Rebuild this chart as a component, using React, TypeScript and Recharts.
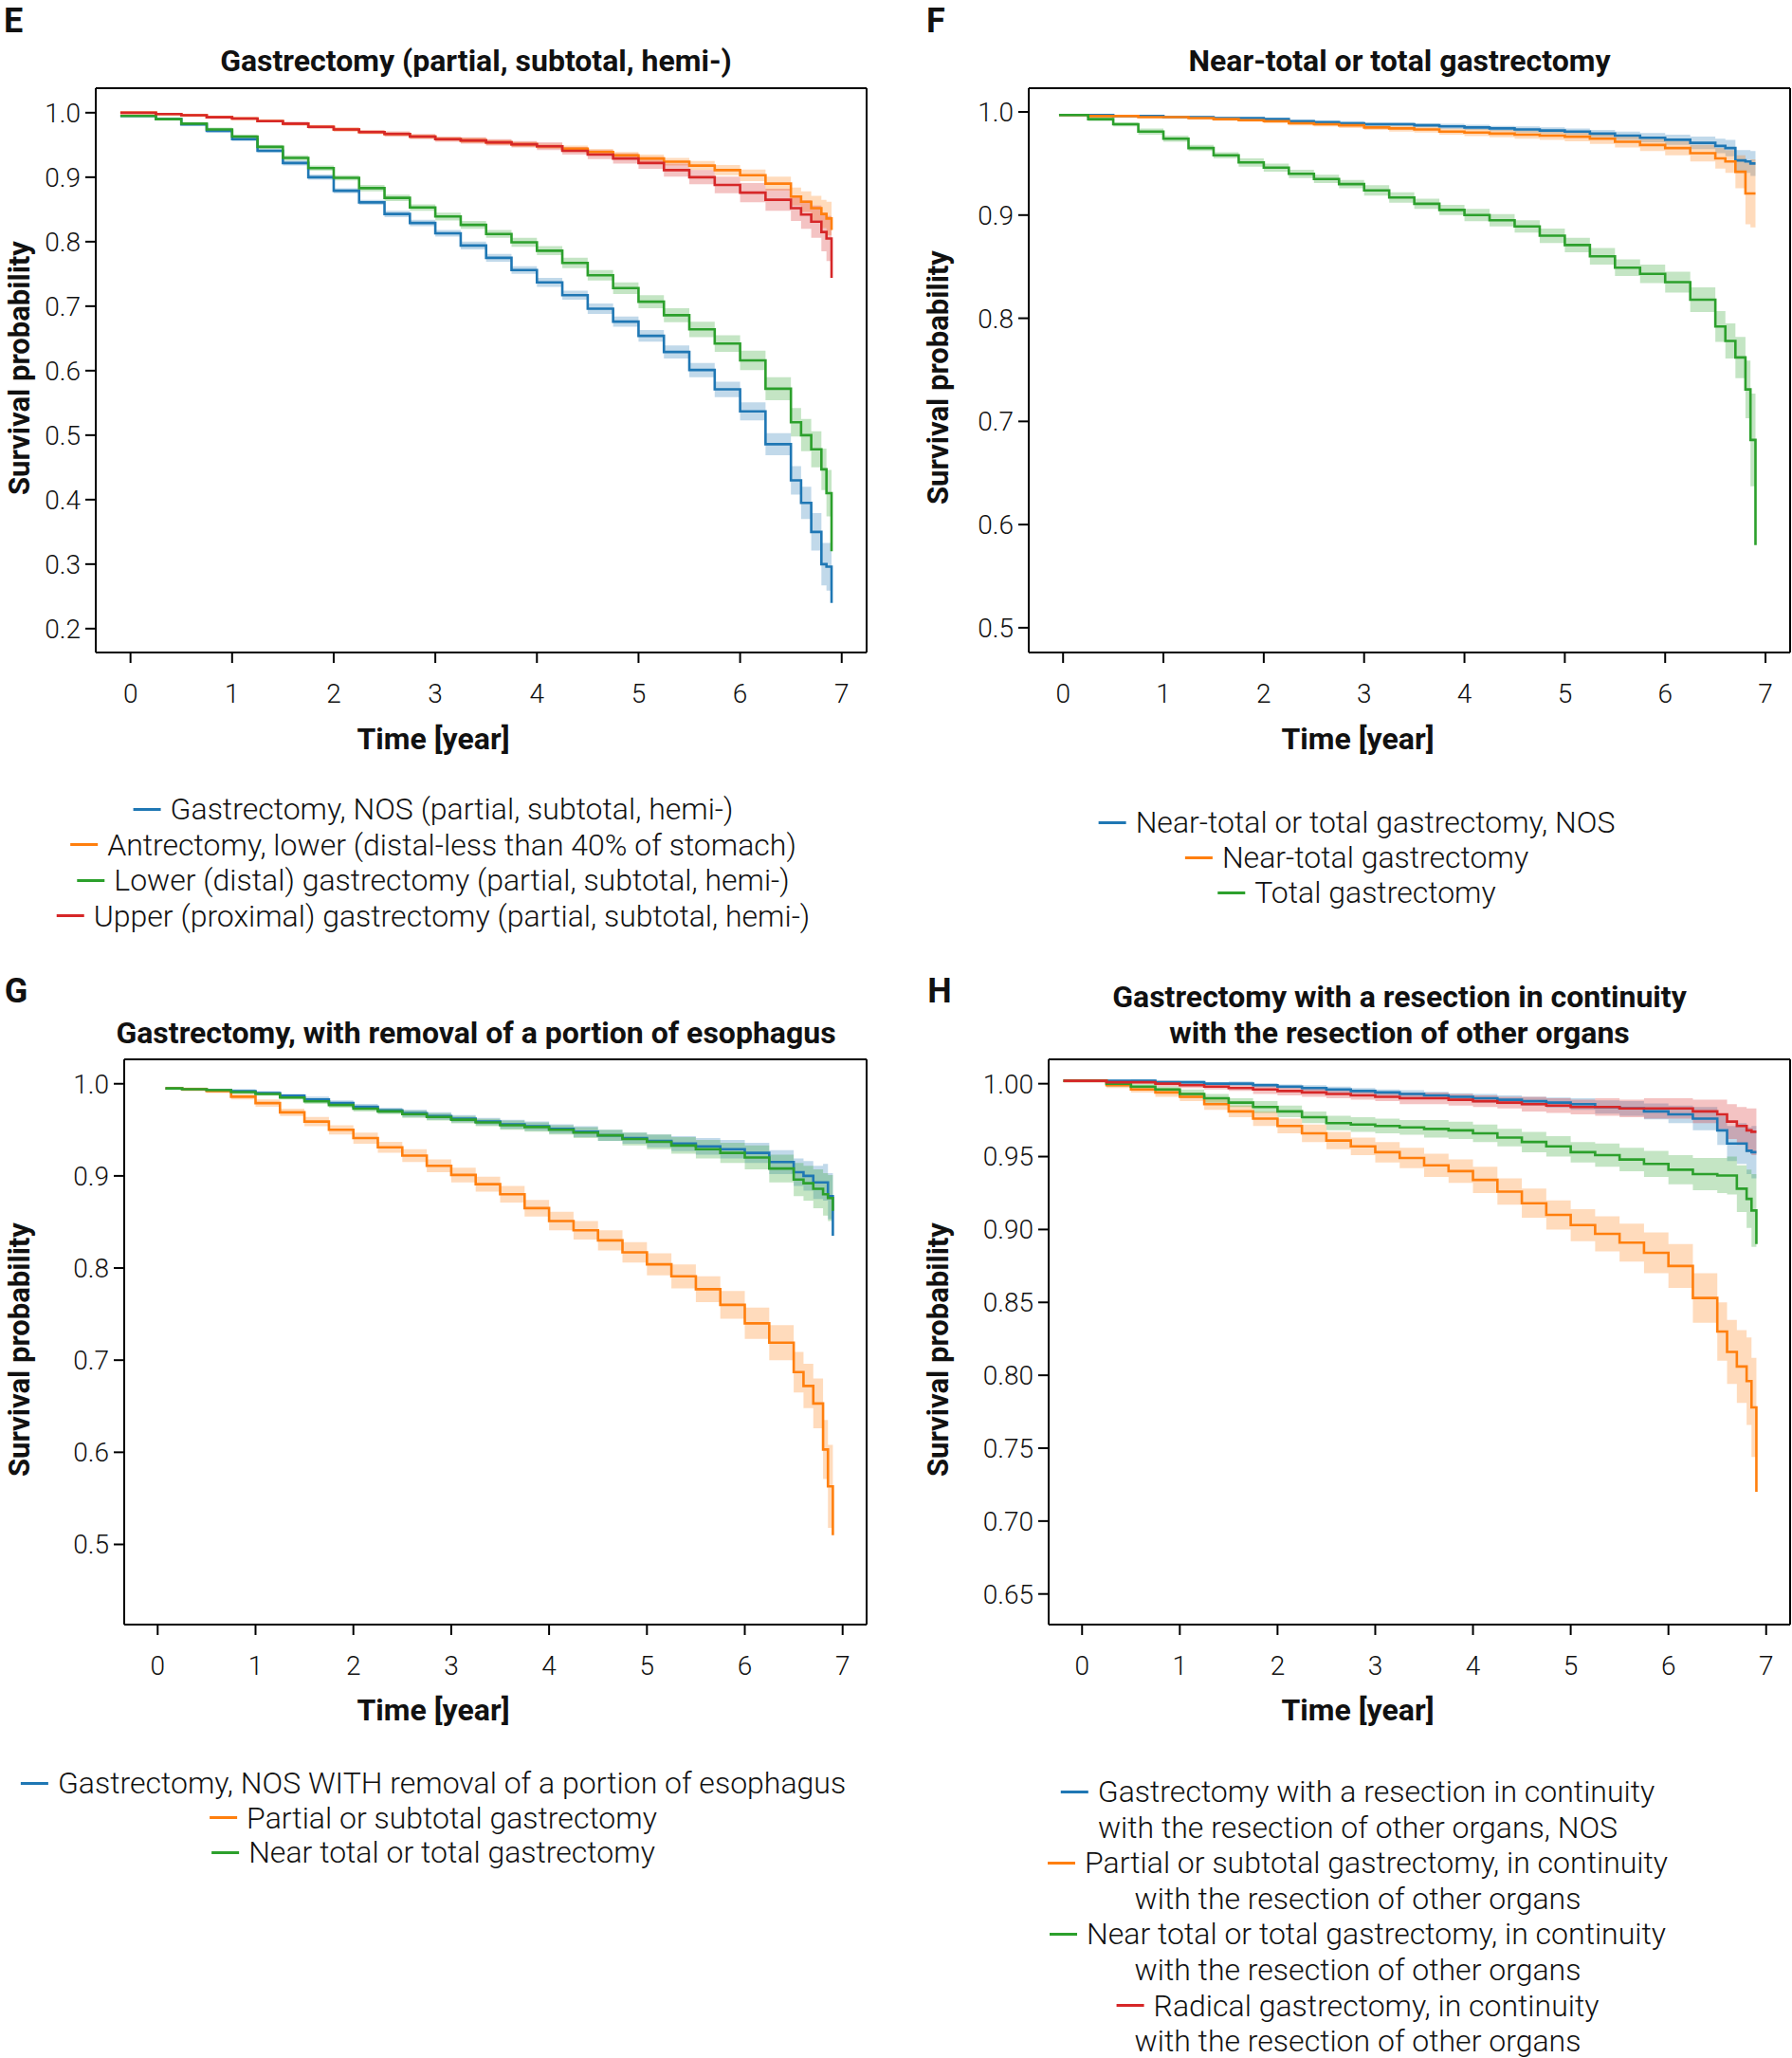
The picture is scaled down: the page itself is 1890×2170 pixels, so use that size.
import React from 'react';
import { ComposedChart, Line, Area, XAxis, YAxis } from 'recharts';

// Kaplan-Meier estimates (E, F, G, H).
// Every series has one value for the panel start time plus one for each entry of TIME_STEPS.
const TIME_STEPS = [
  0.25, 0.5, 0.75, 1, 1.25, 1.5, 1.75, 2, 2.25, 2.5, 2.75, 3, 3.25, 3.5, 3.75, 4, 4.25, 4.5, 4.75, 5,
  5.25, 5.5, 5.75, 6, 6.25, 6.5, 6.6, 6.7, 6.8, 6.85, 6.9,
];
const START_E = -0.1;
const START_F = -0.04;
const START_G = 0.08;
const START_H = -0.19;

const X_TICKS = [0, 1, 2, 3, 4, 5, 6, 7];
const Y_TICKS_E = [0.2, 0.3, 0.4, 0.5, 0.6, 0.7, 0.8, 0.9, 1.0];
const Y_TICKS_F = [0.5, 0.6, 0.7, 0.8, 0.9, 1.0];
const Y_TICKS_G = [0.5, 0.6, 0.7, 0.8, 0.9, 1.0];
const Y_TICKS_H = [0.65, 0.7, 0.75, 0.8, 0.85, 0.9, 0.95, 1.0];

// E: Gastrectomy (partial, subtotal, hemi-)
const E_NOS = [0.995, 0.99, 0.982, 0.972, 0.959, 0.941, 0.922, 0.9, 0.879, 0.861, 0.843, 0.829, 0.813, 0.794, 0.775, 0.756, 0.737, 0.717, 0.696, 0.676, 0.654, 0.629, 0.601, 0.571, 0.537, 0.486, 0.43, 0.395, 0.35, 0.3, 0.296, 0.24];
const E_NOS_CI = [0.001, 0.002, 0.002, 0.003, 0.003, 0.003, 0.004, 0.004, 0.004, 0.004, 0.005, 0.005, 0.005, 0.006, 0.006, 0.006, 0.007, 0.007, 0.008, 0.008, 0.009, 0.01, 0.011, 0.012, 0.014, 0.017, 0.022, 0.025, 0.029, 0.033, 0.037, 0.045];
const E_ANTRECTOMY = [1.0, 0.998, 0.996, 0.993, 0.991, 0.987, 0.983, 0.978, 0.974, 0.97, 0.967, 0.963, 0.959, 0.957, 0.954, 0.951, 0.948, 0.944, 0.939, 0.934, 0.929, 0.924, 0.918, 0.911, 0.903, 0.89, 0.87, 0.862, 0.852, 0.843, 0.836, 0.818];
const E_ANTRECTOMY_CI = [0.001, 0.001, 0.001, 0.002, 0.002, 0.002, 0.002, 0.002, 0.003, 0.003, 0.003, 0.003, 0.003, 0.004, 0.004, 0.004, 0.004, 0.005, 0.005, 0.005, 0.006, 0.006, 0.007, 0.008, 0.009, 0.011, 0.014, 0.016, 0.019, 0.022, 0.026, 0.032];
const E_LOWER = [0.995, 0.99, 0.983, 0.974, 0.963, 0.947, 0.93, 0.914, 0.899, 0.883, 0.868, 0.853, 0.839, 0.826, 0.812, 0.799, 0.786, 0.767, 0.748, 0.728, 0.707, 0.686, 0.664, 0.642, 0.616, 0.572, 0.52, 0.5, 0.478, 0.447, 0.41, 0.32];
const E_LOWER_CI = [0.001, 0.002, 0.002, 0.003, 0.003, 0.003, 0.004, 0.004, 0.004, 0.005, 0.005, 0.005, 0.006, 0.006, 0.006, 0.007, 0.007, 0.008, 0.008, 0.009, 0.01, 0.011, 0.012, 0.013, 0.015, 0.018, 0.022, 0.025, 0.028, 0.032, 0.036, 0.045];
const E_UPPER = [1.0, 0.998, 0.996, 0.993, 0.991, 0.987, 0.983, 0.978, 0.974, 0.97, 0.967, 0.963, 0.959, 0.957, 0.954, 0.951, 0.948, 0.941, 0.935, 0.929, 0.922, 0.911, 0.9, 0.888, 0.876, 0.865, 0.852, 0.842, 0.831, 0.815, 0.805, 0.744];
const E_UPPER_CI = [0.001, 0.001, 0.001, 0.002, 0.002, 0.002, 0.003, 0.003, 0.003, 0.003, 0.004, 0.004, 0.004, 0.005, 0.005, 0.005, 0.006, 0.006, 0.007, 0.008, 0.009, 0.01, 0.011, 0.013, 0.015, 0.017, 0.02, 0.022, 0.025, 0.03, 0.035, 0.07];

// F: Near-total or total gastrectomy
const F_NOS = [0.997, 0.997, 0.996, 0.996, 0.995, 0.995, 0.994, 0.994, 0.993, 0.991, 0.99, 0.989, 0.988, 0.988, 0.987, 0.986, 0.985, 0.984, 0.983, 0.982, 0.981, 0.979, 0.977, 0.975, 0.973, 0.97, 0.967, 0.965, 0.953, 0.952, 0.95, 0.95];
const F_NOS_CI = [0.0005, 0.001, 0.001, 0.001, 0.001, 0.001, 0.001, 0.001, 0.0015, 0.0015, 0.0015, 0.002, 0.002, 0.002, 0.002, 0.0025, 0.0025, 0.0025, 0.003, 0.003, 0.003, 0.0035, 0.004, 0.0045, 0.005, 0.006, 0.007, 0.008, 0.01, 0.011, 0.012, 0.012];
const F_NEAR = [0.997, 0.996, 0.996, 0.995, 0.995, 0.994, 0.993, 0.992, 0.991, 0.989, 0.988, 0.987, 0.985, 0.984, 0.983, 0.981, 0.98, 0.979, 0.978, 0.977, 0.976, 0.974, 0.971, 0.968, 0.965, 0.96, 0.955, 0.952, 0.942, 0.921, 0.921, 0.921];
const F_NEAR_CI = [0.0005, 0.001, 0.001, 0.001, 0.001, 0.0015, 0.0015, 0.0015, 0.002, 0.002, 0.002, 0.0025, 0.0025, 0.003, 0.003, 0.003, 0.0035, 0.0035, 0.004, 0.004, 0.0045, 0.005, 0.0055, 0.006, 0.007, 0.008, 0.01, 0.011, 0.016, 0.03, 0.033, 0.036];
const F_TOTAL = [0.997, 0.993, 0.988, 0.981, 0.974, 0.965, 0.958, 0.951, 0.946, 0.94, 0.935, 0.93, 0.924, 0.917, 0.911, 0.905, 0.9, 0.895, 0.889, 0.88, 0.871, 0.86, 0.849, 0.843, 0.835, 0.818, 0.792, 0.778, 0.762, 0.731, 0.682, 0.58];
const F_TOTAL_CI = [0.001, 0.002, 0.002, 0.003, 0.003, 0.003, 0.003, 0.004, 0.004, 0.004, 0.004, 0.004, 0.005, 0.005, 0.005, 0.005, 0.006, 0.006, 0.006, 0.007, 0.007, 0.008, 0.008, 0.009, 0.01, 0.012, 0.015, 0.017, 0.02, 0.028, 0.045, 0.085];

// G: Gastrectomy, with removal of a portion of esophagus
const G_NOS = [0.995, 0.994, 0.993, 0.992, 0.99, 0.987, 0.983, 0.979, 0.975, 0.971, 0.968, 0.965, 0.962, 0.959, 0.956, 0.954, 0.951, 0.948, 0.944, 0.941, 0.938, 0.935, 0.932, 0.929, 0.925, 0.915, 0.904, 0.9, 0.893, 0.893, 0.878, 0.835];
const G_NOS_CI = [0.001, 0.001, 0.001, 0.002, 0.002, 0.002, 0.003, 0.003, 0.003, 0.003, 0.004, 0.004, 0.004, 0.004, 0.005, 0.005, 0.005, 0.006, 0.006, 0.006, 0.007, 0.008, 0.009, 0.01, 0.011, 0.013, 0.015, 0.016, 0.018, 0.02, 0.025, 0.06];
const G_PARTIAL = [0.995, 0.994, 0.992, 0.986, 0.979, 0.969, 0.959, 0.95, 0.941, 0.931, 0.922, 0.911, 0.901, 0.891, 0.88, 0.865, 0.851, 0.841, 0.83, 0.817, 0.804, 0.791, 0.777, 0.76, 0.74, 0.719, 0.687, 0.672, 0.653, 0.603, 0.563, 0.51];
const G_PARTIAL_CI = [0.001, 0.002, 0.002, 0.003, 0.004, 0.004, 0.005, 0.005, 0.006, 0.006, 0.007, 0.007, 0.008, 0.008, 0.009, 0.009, 0.01, 0.01, 0.011, 0.011, 0.012, 0.013, 0.014, 0.015, 0.017, 0.019, 0.022, 0.024, 0.027, 0.032, 0.045, 0.065];
const G_NEAR = [0.995, 0.994, 0.993, 0.991, 0.989, 0.985, 0.981, 0.977, 0.973, 0.97, 0.967, 0.964, 0.961, 0.958, 0.955, 0.953, 0.95, 0.947, 0.944, 0.94, 0.937, 0.933, 0.929, 0.925, 0.92, 0.908, 0.896, 0.892, 0.886, 0.88, 0.876, 0.862];
const G_NEAR_CI = [0.001, 0.001, 0.001, 0.002, 0.002, 0.002, 0.003, 0.003, 0.003, 0.003, 0.004, 0.004, 0.004, 0.004, 0.005, 0.005, 0.005, 0.006, 0.006, 0.007, 0.008, 0.009, 0.01, 0.011, 0.013, 0.015, 0.018, 0.019, 0.021, 0.023, 0.025, 0.03];

// H: Gastrectomy with a resection in continuity with the resection of other organs
const H_NOS = [1.002, 1.002, 1.002, 1.001, 1.001, 1.0, 1.0, 0.999, 0.998, 0.997, 0.996, 0.995, 0.994, 0.993, 0.992, 0.991, 0.99, 0.989, 0.988, 0.987, 0.986, 0.984, 0.983, 0.981, 0.979, 0.976, 0.968, 0.959, 0.959, 0.954, 0.953, 0.953];
const H_NOS_CI = [0.0005, 0.0005, 0.001, 0.001, 0.001, 0.001, 0.0015, 0.0015, 0.0015, 0.002, 0.002, 0.002, 0.002, 0.0025, 0.0025, 0.0025, 0.003, 0.003, 0.003, 0.0035, 0.004, 0.0045, 0.005, 0.0055, 0.006, 0.008, 0.01, 0.012, 0.014, 0.016, 0.018, 0.02];
const H_PARTIAL = [1.002, 0.999, 0.996, 0.994, 0.991, 0.986, 0.981, 0.976, 0.971, 0.966, 0.961, 0.957, 0.953, 0.949, 0.944, 0.94, 0.934, 0.926, 0.918, 0.91, 0.903, 0.897, 0.891, 0.884, 0.875, 0.853, 0.83, 0.816, 0.806, 0.796, 0.778, 0.72];
const H_PARTIAL_CI = [0.001, 0.002, 0.002, 0.003, 0.003, 0.004, 0.004, 0.005, 0.005, 0.006, 0.006, 0.006, 0.007, 0.007, 0.008, 0.008, 0.009, 0.009, 0.01, 0.01, 0.011, 0.012, 0.013, 0.014, 0.015, 0.017, 0.02, 0.022, 0.025, 0.03, 0.034, 0.04];
const H_NEAR = [1.002, 1.0, 0.998, 0.996, 0.993, 0.99, 0.987, 0.984, 0.981, 0.977, 0.973, 0.972, 0.971, 0.97, 0.969, 0.968, 0.966, 0.963, 0.96, 0.957, 0.953, 0.951, 0.948, 0.945, 0.941, 0.938, 0.937, 0.937, 0.928, 0.921, 0.913, 0.89];
const H_NEAR_CI = [0.001, 0.002, 0.002, 0.002, 0.003, 0.003, 0.003, 0.004, 0.004, 0.004, 0.005, 0.005, 0.005, 0.005, 0.006, 0.006, 0.006, 0.006, 0.007, 0.007, 0.007, 0.008, 0.008, 0.009, 0.01, 0.011, 0.012, 0.013, 0.016, 0.02, 0.025, 0.045];
const H_RADICAL = [1.002, 1.001, 1.001, 1.0, 0.999, 0.998, 0.997, 0.996, 0.995, 0.994, 0.993, 0.992, 0.991, 0.99, 0.99, 0.989, 0.988, 0.987, 0.986, 0.985, 0.984, 0.984, 0.983, 0.983, 0.983, 0.981, 0.979, 0.974, 0.971, 0.968, 0.967, 0.967];
const H_RADICAL_CI = [0.001, 0.001, 0.001, 0.002, 0.002, 0.002, 0.002, 0.003, 0.003, 0.003, 0.003, 0.003, 0.003, 0.004, 0.004, 0.004, 0.004, 0.004, 0.005, 0.005, 0.005, 0.006, 0.006, 0.007, 0.007, 0.008, 0.01, 0.012, 0.013, 0.015, 0.016, 0.017];

const BLUE = '#1f77b4';
const ORANGE = '#ff7f0e';
const GREEN = '#2ca02c';
const RED = '#d62728';

const X_DOMAIN: [number, number] = [-0.342, 7.245];
const FONT = 'Roboto, "Open Sans", sans-serif';
const INK = '#111';

type Series = { key: string; color: string; values: number[]; ci: number[] };

function buildRows(start: number, series: Series[]) {
  const times = [start, ...TIME_STEPS];
  return times.map((t, i) => {
    const row: Record<string, any> = { t };
    series.forEach((s) => {
      row[s.key] = s.values[i];
      row[s.key + 'Band'] = [s.values[i] - s.ci[i], s.values[i] + s.ci[i]];
    });
    return row;
  });
}

const tickStyle = { fontSize: 28, fontFamily: FONT, fontWeight: 300, fill: INK };
const lineStyle = { stroke: '#000', strokeWidth: 2 };

type PanelProps = {
  left: number;
  top: number;
  height: number;
  yAxisWidth: number;
  rightGap: number;
  plotTop: number;
  plotBottom: number;
  yDomain: [number, number];
  yTicks: number[];
  digits: number;
  start: number;
  series: Series[];
};

function KMPanel({ left, top, height, yAxisWidth, rightGap, plotTop, plotBottom, yDomain, yTicks, digits, start, series }: PanelProps) {
  const data = buildRows(start, series);
  const xAxisHeight = 60;
  return (
    <div style={{ position: 'absolute', left, top }}>
      <ComposedChart
        width={945}
        height={height}
        data={data}
        margin={{ top: plotTop - 1, right: rightGap - 1, bottom: height - plotBottom - xAxisHeight, left: 0 }}
      >
        <XAxis
          dataKey="t"
          type="number"
          domain={X_DOMAIN}
          ticks={X_TICKS}
          allowDataOverflow
          height={xAxisHeight}
          tickSize={11}
          tickMargin={22}
          axisLine={lineStyle}
          tickLine={lineStyle}
          tick={tickStyle}
        />
        <XAxis
          xAxisId="top"
          orientation="top"
          dataKey="t"
          type="number"
          domain={X_DOMAIN}
          allowDataOverflow
          height={1}
          tick={false}
          tickLine={false}
          axisLine={lineStyle}
        />
        <YAxis
          type="number"
          domain={yDomain}
          ticks={yTicks}
          allowDataOverflow
          width={yAxisWidth}
          tickSize={11}
          tickMargin={5}
          axisLine={lineStyle}
          tickLine={lineStyle}
          tick={tickStyle}
          tickFormatter={(v: number) => v.toFixed(digits)}
        />
        <YAxis
          yAxisId="right"
          orientation="right"
          type="number"
          domain={yDomain}
          allowDataOverflow
          width={1}
          tick={false}
          tickLine={false}
          axisLine={lineStyle}
        />
        {series.map((s) => (
          <Area
            key={s.key + 'Band'}
            dataKey={s.key + 'Band'}
            type="stepAfter"
            stroke="none"
            fill={s.color}
            fillOpacity={0.28}
            isAnimationActive={false}
          />
        ))}
        {series.map((s) => (
          <Line
            key={s.key}
            dataKey={s.key}
            type="stepAfter"
            stroke={s.color}
            strokeWidth={2.6}
            dot={false}
            isAnimationActive={false}
          />
        ))}
      </ComposedChart>
    </div>
  );
}

function Text({ x, y, size, weight = 400, rotate = false, children }: any) {
  return (
    <div
      style={{
        position: 'absolute',
        left: x,
        top: y,
        transform: `translate(-50%, -50%)${rotate ? ' rotate(-90deg)' : ''}`,
        fontFamily: FONT,
        fontSize: size,
        fontWeight: weight,
        lineHeight: 1,
        whiteSpace: 'nowrap',
        color: INK,
      }}
    >
      {children}
    </div>
  );
}

type LegendLine = { label: string; color?: string };

function Legend({ cx, y0, step, lines }: { cx: number; y0: number; step: number; lines: LegendLine[] }) {
  return (
    <>
      {lines.map((ln, i) => (
        <div
          key={i}
          style={{
            position: 'absolute',
            left: cx,
            top: y0 + i * step,
            transform: 'translate(-50%, -50%)',
            display: 'flex',
            alignItems: 'center',
            fontFamily: FONT,
            fontSize: 32,
            fontWeight: 300,
            lineHeight: 1,
            whiteSpace: 'nowrap',
            color: INK,
          }}
        >
          {ln.color && (
            <span style={{ display: 'inline-block', width: 29, height: 3, background: ln.color, marginRight: 10 }} />
          )}
          <span>{ln.label}</span>
        </div>
      ))}
    </>
  );
}

const SERIES_E: Series[] = [
  { key: 'nos', color: BLUE, values: E_NOS, ci: E_NOS_CI },
  { key: 'antrectomy', color: ORANGE, values: E_ANTRECTOMY, ci: E_ANTRECTOMY_CI },
  { key: 'lower', color: GREEN, values: E_LOWER, ci: E_LOWER_CI },
  { key: 'upper', color: RED, values: E_UPPER, ci: E_UPPER_CI },
];
const SERIES_F: Series[] = [
  { key: 'nos', color: BLUE, values: F_NOS, ci: F_NOS_CI },
  { key: 'near', color: ORANGE, values: F_NEAR, ci: F_NEAR_CI },
  { key: 'total', color: GREEN, values: F_TOTAL, ci: F_TOTAL_CI },
];
const SERIES_G: Series[] = [
  { key: 'nos', color: BLUE, values: G_NOS, ci: G_NOS_CI },
  { key: 'partial', color: ORANGE, values: G_PARTIAL, ci: G_PARTIAL_CI },
  { key: 'near', color: GREEN, values: G_NEAR, ci: G_NEAR_CI },
];
const SERIES_H: Series[] = [
  { key: 'nos', color: BLUE, values: H_NOS, ci: H_NOS_CI },
  { key: 'partial', color: ORANGE, values: H_PARTIAL, ci: H_PARTIAL_CI },
  { key: 'near', color: GREEN, values: H_NEAR, ci: H_NEAR_CI },
  { key: 'radical', color: RED, values: H_RADICAL, ci: H_RADICAL_CI },
];

const LEGEND_E: LegendLine[] = [
  { label: 'Gastrectomy, NOS (partial, subtotal, hemi-)', color: BLUE },
  { label: 'Antrectomy, lower (distal-less than 40% of stomach)', color: ORANGE },
  { label: 'Lower (distal) gastrectomy (partial, subtotal, hemi-)', color: GREEN },
  { label: 'Upper (proximal) gastrectomy (partial, subtotal, hemi-)', color: RED },
];
const LEGEND_F: LegendLine[] = [
  { label: 'Near-total or total gastrectomy, NOS', color: BLUE },
  { label: 'Near-total gastrectomy', color: ORANGE },
  { label: 'Total gastrectomy', color: GREEN },
];
const LEGEND_G: LegendLine[] = [
  { label: 'Gastrectomy, NOS WITH removal of a portion of esophagus', color: BLUE },
  { label: 'Partial or subtotal gastrectomy', color: ORANGE },
  { label: 'Near total or total gastrectomy', color: GREEN },
];
const LEGEND_H: LegendLine[] = [
  { label: 'Gastrectomy with a resection in continuity', color: BLUE },
  { label: 'with the resection of other organs, NOS' },
  { label: 'Partial or subtotal gastrectomy, in continuity', color: ORANGE },
  { label: 'with the resection of other organs' },
  { label: 'Near total or total gastrectomy, in continuity', color: GREEN },
  { label: 'with the resection of other organs' },
  { label: 'Radical gastrectomy, in continuity', color: RED },
  { label: 'with the resection of other organs' },
];

export default function App() {
  return (
    <div style={{ position: 'absolute', left: 0, top: 0, width: 1890, height: 2170, background: '#fff', overflow: 'hidden' }}>
      <KMPanel left={0} top={0} height={770} yAxisWidth={101} rightGap={31} plotTop={93} plotBottom={688}
        yDomain={[0.163, 1.038]} yTicks={Y_TICKS_E} digits={1} start={START_E} series={SERIES_E} />
      <KMPanel left={945} top={0} height={770} yAxisWidth={140} rightGap={2} plotTop={93} plotBottom={688}
        yDomain={[0.476, 1.023]} yTicks={Y_TICKS_F} digits={1} start={START_F} series={SERIES_F} />
      <KMPanel left={0} top={1000} height={790} yAxisWidth={131} rightGap={31} plotTop={117} plotBottom={713}
        yDomain={[0.413, 1.0265]} yTicks={Y_TICKS_G} digits={1} start={START_G} series={SERIES_G} />
      <KMPanel left={945} top={1000} height={790} yAxisWidth={161} rightGap={2} plotTop={117} plotBottom={713}
        yDomain={[0.629, 1.0167]} yTicks={Y_TICKS_H} digits={2} start={START_H} series={SERIES_H} />

      <Text x={14} y={22} size={36} weight={700}>E</Text>
      <Text x={987} y={22} size={36} weight={700}>F</Text>
      <Text x={17} y={1045} size={36} weight={700}>G</Text>
      <Text x={991} y={1045} size={36} weight={700}>H</Text>

      <Text x={502} y={64} size={32} weight={700}>Gastrectomy (partial, subtotal, hemi-)</Text>
      <Text x={1476} y={64} size={32} weight={700}>Near-total or total gastrectomy</Text>
      <Text x={502} y={1089} size={32} weight={700}>Gastrectomy, with removal of a portion of esophagus</Text>
      <Text x={1476} y={1051} size={32} weight={700}>Gastrectomy with a resection in continuity</Text>
      <Text x={1476} y={1089} size={32} weight={700}>with the resection of other organs</Text>

      <Text x={20} y={388} size={31} weight={700} rotate>Survival probability</Text>
      <Text x={989} y={398} size={31} weight={700} rotate>Survival probability</Text>
      <Text x={20} y={1423} size={31} weight={700} rotate>Survival probability</Text>
      <Text x={989} y={1423} size={31} weight={700} rotate>Survival probability</Text>

      <Text x={457} y={779} size={32} weight={700}>Time [year]</Text>
      <Text x={1432} y={779} size={32} weight={700}>Time [year]</Text>
      <Text x={457} y={1803} size={32} weight={700}>Time [year]</Text>
      <Text x={1432} y={1803} size={32} weight={700}>Time [year]</Text>

      <Legend cx={457} y0={853} step={37.6} lines={LEGEND_E} />
      <Legend cx={1431} y0={867} step={37} lines={LEGEND_F} />
      <Legend cx={457} y0={1880} step={36.5} lines={LEGEND_G} />
      <Legend cx={1432} y0={1889} step={37.6} lines={LEGEND_H} />
    </div>
  );
}
